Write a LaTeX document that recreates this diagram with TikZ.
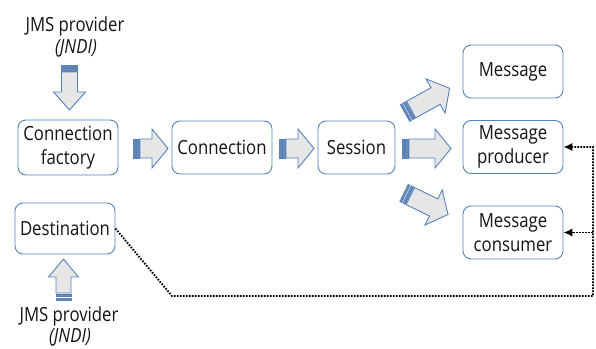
\documentclass[tikz,border=0pt]{standalone}
\usepackage{fontspec}
\setmainfont{Open Sans}[FakeStretch=0.86]
\usetikzlibrary{arrows.meta}
\definecolor{boxblue}{RGB}{86,130,186}
\definecolor{arrfill}{RGB}{230,230,230}
\definecolor{stripecol}{RGB}{70,108,160}
\definecolor{txt}{RGB}{20,20,20}
% #1 position, #2 angle, #3 length, #4 shaft half width, #5 head half width, #6 head length
\newcommand{\stripedarrow}[6]{%
  \begin{scope}[shift={#1}, rotate=#2]
    \path[draw=boxblue, fill=stripecol!80!white, line width=0.8pt] (0,-#4) rectangle (2,#4);
    \path[draw=boxblue, fill=stripecol!80!white, line width=0.8pt] (3.5,-#4) rectangle (6,#4);
    \path[draw=boxblue, fill=arrfill, line width=0.9pt, line join=miter]
      (7,-#4) -- (#3-#6,-#4) -- (#3-#6,-#5) -- (#3,0) -- (#3-#6,#5) -- (#3-#6,#4) -- (7,#4) -- cycle;
  \end{scope}}
\tikzset{
  box/.style={draw=boxblue, rounded corners=8pt, line width=0.9pt, minimum width=100pt,
    minimum height=53pt, align=center, inner sep=0pt, text=txt,
    font=\fontsize{19.5}{24}\selectfont},
  lbl/.style={anchor=base, inner sep=0pt, text=txt, font=\fontsize{19.5}{24}\selectfont},
  dotline/.style={line width=1.9pt, dash pattern=on 1.6pt off 1.4pt, draw=black},
  dotarrow/.style={dotline, -{Latex[length=9pt,width=8.5pt]}}
}
\begin{document}
\begin{tikzpicture}[x=1pt,y=-1pt]
\useasboundingbox (0,0) rectangle (596,348);
% boxes
\node[box, minimum height=55pt] (cf) at (68,147.5) {Connection\\factory};
\node[box] (conn) at (222,147.5) {Connection};
\node[box, minimum width=77pt] (sess) at (356.5,147.5) {Session};
\node[box] (msg) at (513,71.5) {Message};
\node[box] (prod) at (513,147) {Message\\producer};
\node[box] (cons) at (513,232.5) {Message\\consumer};
\node[box, minimum height=51pt] (dest) at (65,228.5) {Destination};
% labels
\node[lbl] (jms1) at (75,31) {JMS provider};
\node[lbl] (jndi1) at (76,53) {\itshape (JNDI)};
\node[lbl] (jms2) at (69,321) {JMS provider};
\node[lbl] (jndi2) at (70,342) {\itshape (JNDI)};
% block arrows
\stripedarrow{(69.5,65)}{-90}{45}{8}{16}{18}
\stripedarrow{(63.5,300)}{90}{41}{7.5}{15}{18}
\stripedarrow{(133,148.5)}{0}{35}{9.5}{19.5}{16}
\stripedarrow{(279,148.5)}{0}{35}{9.5}{19.5}{16}
\stripedarrow{(402,148.5)}{0}{49}{9.5}{19.5}{16}
\stripedarrow{(405,113)}{29}{51}{9.5}{19.5}{16}
\stripedarrow{(404,193)}{-26}{49}{9.5}{19.5}{16}
% dotted connectors
\coordinate (c1) at (172,296);
\coordinate (c2) at (593,296);
\coordinate (c3) at (c2 |- cons.east);
\draw[dotarrow] (dest.east) -- (c1) -- (c2) |- (prod.east);
\draw[dotarrow] (c3) -- (cons.east);
\end{tikzpicture}
\end{document}
